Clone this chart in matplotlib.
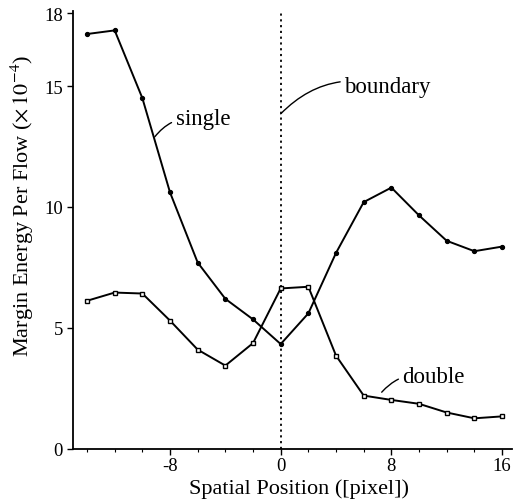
import matplotlib
matplotlib.use("Agg")
import matplotlib.pyplot as plt

# positions in pixels, even steps from -14 to 16
pos = [-14, -12, -10, -8, -6, -4, -2, 0, 2, 4, 6, 8, 10, 12, 14, 16]
single = [17.15, 17.3, 14.5, 10.6, 7.7, 6.2, 5.35, 4.33, 5.6, 8.1,
          10.2, 10.8, 9.65, 8.6, 8.17, 8.36]
double = [6.12, 6.46, 6.42, 5.3, 4.1, 3.44, 4.37, 6.63, 6.7, 3.85,
          2.2, 2.02, 1.86, 1.5, 1.26, 1.34]

xticks = [-8, 0, 8, 16]
yticks = [0, 5, 10, 15, 18]

plt.rcParams['font.family'] = ['Liberation Serif', 'DejaVu Serif']
plt.rcParams['mathtext.fontset'] = 'stix'

fig = plt.figure(figsize=(5.19, 5.02), dpi=100)
ax = fig.add_axes([0.141, 0.104, 0.845, 0.872])

ax.plot(pos, single, color='black', lw=1.4, marker='o', ms=2.8)
ax.plot(pos, double, color='black', lw=1.4, marker='s', ms=3.5,
        mfc='white', mec='black', mew=1.0)
ax.axvline(0, color='black', lw=1.3, ls=(0, (1.2, 2.0)))

# curved leader lines to the labels
arc = dict(arrowstyle='-', color='black', lw=1.0, shrinkA=1, shrinkB=0,
           connectionstyle='arc3,rad=0.3')
ax.annotate('single', xy=(-9.1, 12.9), xytext=(-7.6, 13.65), fontsize=16.5,
            va='center', ha='left', arrowprops=arc)
ax.annotate('boundary', xy=(0, 13.85), xytext=(4.6, 15.0), fontsize=16.5,
            va='center', ha='left', arrowprops=arc)
ax.annotate('double', xy=(7.3, 2.34), xytext=(8.8, 3.0), fontsize=16.5,
            va='center', ha='left', arrowprops=arc)

ax.set_xlim(-15, 16.7)
ax.set_ylim(0, 18.1)
ax.set_xticks(xticks)
ax.set_xticklabels([str(t) for t in xticks])
ax.set_xticks(range(-14, 17, 2), minor=True)
ax.set_yticks(yticks)
ax.tick_params(axis='both', which='major', labelsize=13.5, direction='out',
               length=4, width=1.0)
ax.tick_params(axis='x', which='major', pad=2)
ax.tick_params(axis='both', which='minor', direction='out', length=2.5, width=0.8)

ax.spines['top'].set_visible(False)
ax.spines['right'].set_visible(False)
ax.spines['left'].set_linewidth(1.3)
ax.spines['bottom'].set_linewidth(1.3)

ax.set_xlabel('Spatial Position ([pixel])', fontsize=16)
ax.set_ylabel(r'Margin Energy Per Flow ($\times\,10^{-4}$)', fontsize=16)
ax.xaxis.set_label_coords(0.514, -0.067)
ax.yaxis.set_label_coords(-0.085, 0.557)

fig.savefig("out.png", dpi=100)
